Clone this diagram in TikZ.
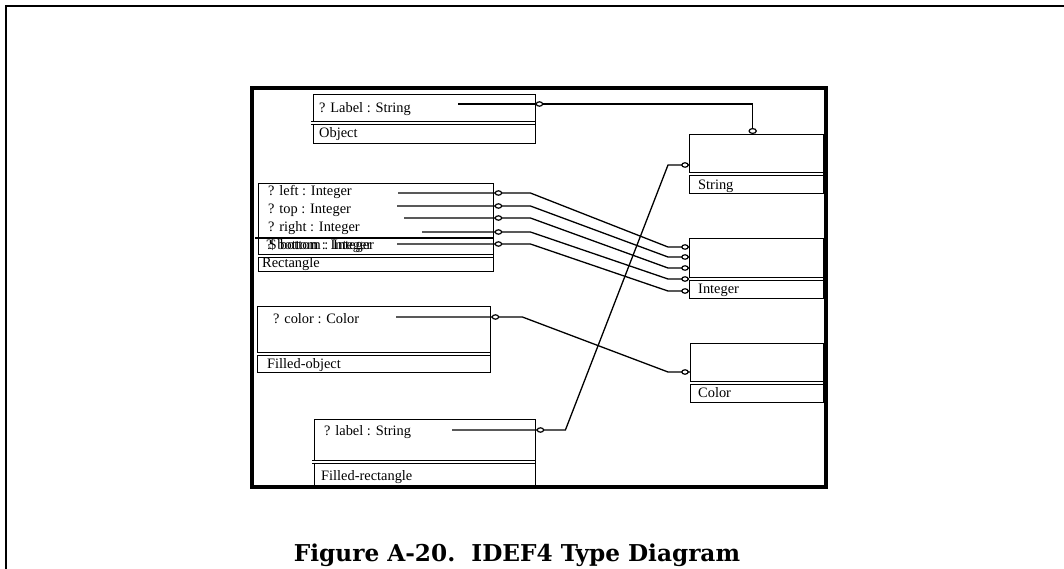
\documentclass[tikz,border=0pt]{standalone}
\usepackage{fontspec}
\setmainfont{Liberation Serif}
\newfontfamily\capfont{DejaVu Serif}
\usetikzlibrary{positioning, calc}
\newcommand{\attrfont}{\fontsize{14.4}{16}\selectfont}

\begin{document}
\begin{tikzpicture}[x=1pt, y=-1pt,
    typebox/.style={draw, line width=1.4pt, anchor=north west, inner sep=0pt},
    dblrule/.style={double, double distance=1.6pt, line width=0.8pt},
    attr/.style={anchor=base west, inner sep=0pt, font=\attrfont},
    link/.style={line width=1.3pt},
    ring/.style={draw, fill=white, line width=1.2pt}]
        \useasboundingbox (0,0) rectangle (1064,569);
        % page and figure frames
        \draw[line width=2.5pt] (6,569) -- (6,6) -- (1064,6);
        \draw[line width=3.5pt] (252,88) rectangle (826,487);

        % type boxes
        \node[typebox, minimum width=222pt, minimum height=49pt] (obj) at (313,94) {};
        \draw[dblrule] (311,123) -- (535,123);
        \node[attr] (objlbl) at (319,113) {? Label : String};
        \node[attr] (objname) at (319,138) {Object};

        \node[typebox, minimum width=235pt, minimum height=88pt] (rect) at (258,183) {};
        \draw[line width=1.2pt] (255,238) -- (493,238);
        \draw[dblrule] (258,256) -- (493,256);
        \node[attr] (rleft) at (268,196) {? left : Integer};
        \node[attr] (rtop) at (268,214) {? top : Integer};
        \node[attr] (rright) at (268,232) {? right : Integer};
        \node[attr] (rbot) at (266,249) {? bottom : Integer};
        \node[attr] (rbot2) at (269,249) {\$ bottom : Integer};
        \node[attr] (rname) at (262,267) {Rectangle};

        \node[typebox, minimum width=233pt, minimum height=66pt] (fobj) at (257,306) {};
        \draw[dblrule] (257,354) -- (490,354);
        \node[attr] (fcolor) at (273,323) {? color : Color};
        \node[attr] (fobjname) at (267,368) {Filled-object};

        \node[typebox, minimum width=221pt, minimum height=67pt] (frect) at (314,419) {};
        \draw[dblrule] (312,462) -- (535,462);
        \node[attr] (flabel) at (324,435) {? label : String};
        \node[attr] (frectname) at (321,480) {Filled-rectangle};

        \node[typebox, minimum width=134pt, minimum height=59pt] (str) at (689,134) {};
        \draw[dblrule] (689,174) -- (823,174);
        \node[attr] (strname) at (698,190) {String};

        \node[typebox, minimum width=134pt, minimum height=60pt] (int) at (689,238) {};
        \draw[dblrule] (689,279) -- (823,279);
        \node[attr] (intname) at (698,293) {Integer};

        \node[typebox, minimum width=133pt, minimum height=59pt] (col) at (690,343) {};
        \draw[dblrule] (690,383) -- (823,383);
        \node[attr] (colname) at (698,397) {Color};

        % link start points
        \coordinate (lblS) at (458,104);
        \coordinate (leftS) at (398,193);
        \coordinate (topS) at (397,206);
        \coordinate (rightS) at (404,218);
        \coordinate (botS) at (422,232);
        \coordinate (bot2S) at (397,244);
        \coordinate (colorS) at (396,317);
        \coordinate (flblS) at (452,430);

        % links
        \draw[link] (lblS) -- ($(obj.east |- lblS)+(0,0)$) -- ($(str.north)+(-4,-30)$) -- ($(str.north)+(-4,0)$);
        \draw[ring] ($(obj.east |- lblS)+(3,0)$) ellipse (3.2 and 2.2);
        \draw[ring] ($(str.north)+(-4,-3)$) ellipse (3.6 and 2.4);

        \draw[link] (leftS) -- ($(rect.east |- leftS)+(36,0)$) -- ($(int.north west)+(-21,9)$) -- ($(int.north west)+(0,9)$);
        \draw[link] (topS) -- ($(rect.east |- topS)+(36,0)$) -- ($(int.north west)+(-21,19)$) -- ($(int.north west)+(0,19)$);
        \draw[link] (rightS) -- ($(rect.east |- rightS)+(36,0)$) -- ($(int.north west)+(-21,30)$) -- ($(int.north west)+(0,30)$);
        \draw[link] (botS) -- ($(rect.east |- botS)+(36,0)$) -- ($(int.north west)+(-21,41)$) -- ($(int.north west)+(0,41)$);
        \draw[link] (bot2S) -- ($(rect.east |- bot2S)+(36,0)$) -- ($(int.north west)+(-21,53)$) -- ($(int.north west)+(0,53)$);
        \draw[ring] ($(rect.east |- leftS)+(4,0)$) ellipse (3.2 and 2.2);
        \draw[ring] ($(rect.east |- topS)+(4,0)$) ellipse (3.2 and 2.2);
        \draw[ring] ($(rect.east |- rightS)+(4,0)$) ellipse (3.2 and 2.2);
        \draw[ring] ($(rect.east |- botS)+(4,0)$) ellipse (3.2 and 2.2);
        \draw[ring] ($(rect.east |- bot2S)+(4,0)$) ellipse (3.2 and 2.2);
        \draw[ring] ($(int.north west)+(-4,9)$) ellipse (3.2 and 2.2);
        \draw[ring] ($(int.north west)+(-4,19)$) ellipse (3.2 and 2.2);
        \draw[ring] ($(int.north west)+(-4,30)$) ellipse (3.2 and 2.2);
        \draw[ring] ($(int.north west)+(-4,41)$) ellipse (3.2 and 2.2);
        \draw[ring] ($(int.north west)+(-4,53)$) ellipse (3.2 and 2.2);

        \draw[link] (colorS) -- ($(fobj.east |- colorS)+(31,0)$) -- ($(col.north west)+(-22,29)$) -- ($(col.north west)+(0,29)$);
        \draw[ring] ($(fobj.east |- colorS)+(4,0)$) ellipse (3.2 and 2.2);
        \draw[ring] ($(col.north west)+(-5,29)$) ellipse (3.2 and 2.2);

        \draw[link] (flblS) -- ($(frect.east |- flblS)+(29,0)$) -- ($(str.north west)+(-21,31)$) -- ($(str.north west)+(0,31)$);
        \draw[ring] ($(frect.east |- flblS)+(4,0)$) ellipse (3.2 and 2.2);
        \draw[ring] ($(str.north west)+(-4,31)$) ellipse (3.2 and 2.2);

        % caption
        \node[anchor=base, inner sep=0pt, font=\capfont\bfseries\fontsize{23.2}{26}\selectfont] (caption) at (517,561) {Figure A-20.\ \ IDEF4 Type Diagram};
      \end{tikzpicture}
\end{document}
